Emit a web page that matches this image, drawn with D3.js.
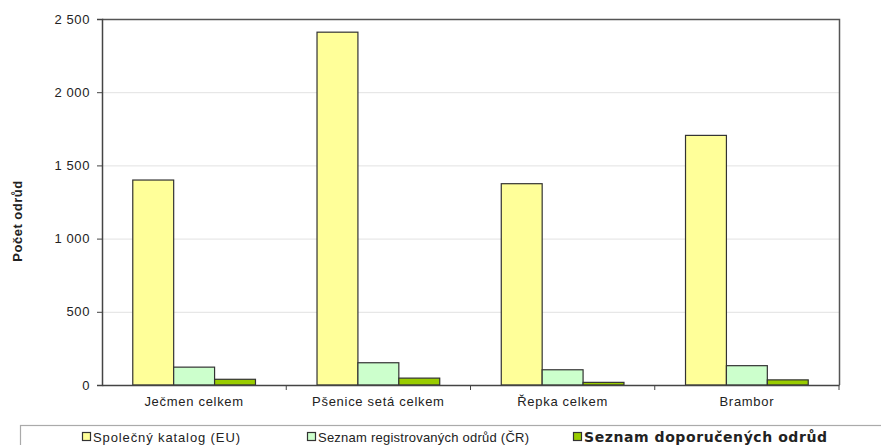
<!DOCTYPE html>
<html>
<head>
<meta charset="utf-8">
<script src="https://cdn.jsdelivr.net/npm/d3@7"></script>
<style>
  body { margin: 0; background: #fff; }
  text { font-family: "Liberation Sans", Arial, sans-serif; fill: #222; }
</style>
</head>
<body>
<div class="chart"></div>
<script>
var categories = ["Ječmen celkem", "Pšenice setá celkem", "Řepka celkem", "Brambor"];
var seriesNames = ["Společný katalog (EU)", "Seznam registrovaných odrůd (ČR)", "Seznam doporučených odrůd"];
var euValues = [1400, 2410, 1375, 1705];
var crValues = [122, 152, 104, 132];
var recValues = [39, 47, 18, 35];
var yTicks = [0, 500, 1000, 1500, 2000, 2500];
var colors = ["#ffff99", "#ccffcc", "#99cc00"];

var w = 881, h = 445;
var plotL = 102, plotR = 839, plotT = 19, plotB = 385;

var svg = d3.select(".chart").append("svg")
    .attr("width", w).attr("height", h);

var x0 = d3.scaleBand().domain(categories).range([plotL, plotR]).padding(0);
var x1 = d3.scaleBand().domain([0, 1, 2])
    .range([x0.bandwidth() * 0.167, x0.bandwidth() * 0.833]);
var y = d3.scaleLinear().domain([0, 2500]).range([plotB, plotT]);

var fmt = function(d) { return d3.format(",")(d).replace(",", " "); };

// gridlines
svg.selectAll("line.grid").data(yTicks.slice(1, -1)).enter().append("line")
    .attr("x1", plotL).attr("x2", plotR)
    .attr("y1", function(d) { return y(d) + 0.5; })
    .attr("y2", function(d) { return y(d) + 0.5; })
    .attr("stroke", "#e2e2e2").attr("stroke-width", 1);

// plot frame top/right
svg.append("path")
    .attr("d", "M" + plotL + "," + (plotT + 0.5) + "H" + (plotR + 0.5) + "V" + plotB)
    .attr("fill", "none").attr("stroke", "#555").attr("stroke-width", 1.5);

var data = categories.map(function(c, i) {
  return { cat: c, vals: [euValues[i], crValues[i], recValues[i]] };
});

var groups = svg.selectAll("g.grp").data(data).enter().append("g")
    .attr("transform", function(d) { return "translate(" + x0(d.cat) + ",0)"; });

groups.selectAll("rect").data(function(d) { return d.vals; }).enter().append("rect")
    .attr("x", function(d, i) { return x1(i); })
    .attr("y", function(d) { return y(d); })
    .attr("width", x1.bandwidth())
    .attr("height", function(d) { return plotB - y(d); })
    .attr("fill", function(d, i) { return colors[i]; })
    .attr("stroke", "#333").attr("stroke-width", 1.2);

// y axis
var yAxis = svg.append("g").attr("transform", "translate(" + plotL + ",0)")
    .call(d3.axisLeft(y).tickValues(yTicks).tickFormat(fmt).tickSize(5).tickPadding(7));
yAxis.select(".domain").attr("stroke", "#444").attr("stroke-width", 1.5);
yAxis.selectAll(".tick line").attr("stroke", "#444");
yAxis.selectAll("text").style("font-size", "13px").style("letter-spacing", "0.6px").attr("fill", "#222");

// x axis
var xAxis = svg.append("g").attr("transform", "translate(0," + plotB + ")")
    .call(d3.axisBottom(x0).tickSize(0).tickPadding(12));
xAxis.select(".domain").attr("stroke", "#444").attr("stroke-width", 1.5);
xAxis.selectAll("text").style("font-size", "13px").style("letter-spacing", "0.7px").attr("fill", "#222");
svg.selectAll("line.sep").data(categories.slice(1).concat(["end"])).enter().append("line")
    .attr("x1", function(d, i) { return plotL + x0.bandwidth() * (i + 1); })
    .attr("x2", function(d, i) { return plotL + x0.bandwidth() * (i + 1); })
    .attr("y1", plotB).attr("y2", plotB + 5)
    .attr("stroke", "#444");

// y title
svg.append("text")
    .attr("transform", "translate(22,221) rotate(-90)")
    .attr("text-anchor", "middle")
    .style("font-size", "13px").style("font-weight", "bold").style("letter-spacing", "0.5px")
    .text("Počet odrůd");

// legend
svg.append("rect").attr("x", 20.5).attr("y", 425.5).attr("width", 880).attr("height", 40)
    .attr("fill", "#fff").attr("stroke", "#aaa").attr("stroke-width", 1.2);
var legX = [82, 307, 573];
var legLen = [147, 211, 243];
var leg = svg.selectAll("g.leg").data(seriesNames).enter().append("g")
    .attr("transform", function(d, i) { return "translate(" + legX[i] + ",432)"; });
leg.append("rect").attr("x", 0.5).attr("y", 0.5).attr("width", 8).attr("height", 8)
    .attr("fill", function(d, i) { return colors[i]; })
    .attr("stroke", "#333").attr("stroke-width", 1.2);
leg.append("text").attr("x", 11).attr("y", 9.5)
    .attr("textLength", function(d, i) { return legLen[i]; })
    .attr("lengthAdjust", "spacing")
    .style("font-family", function(d, i) { return i === 2 ? "'DejaVu Sans', sans-serif" : null; })
    .style("font-size", function(d, i) { return i === 2 ? "14px" : "13px"; })
    .style("font-weight", function(d, i) { return i === 2 ? "bold" : "normal"; })
    .text(function(d) { return d; });
</script>
</body>
</html>
